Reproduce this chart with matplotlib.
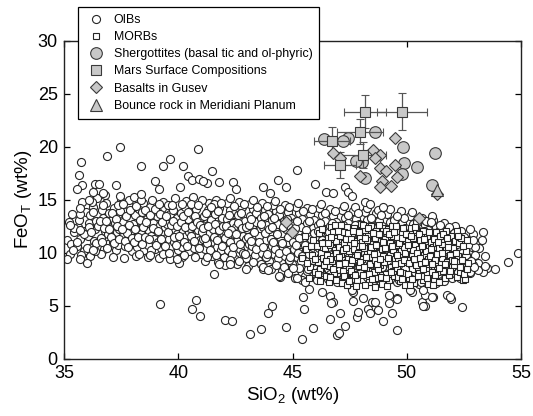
import matplotlib
matplotlib.use("Agg")
import matplotlib.pyplot as plt
from matplotlib.lines import Line2D

plt.rcParams['font.family'] = ['Liberation Sans', 'DejaVu Sans']
plt.rcParams['mathtext.fontset'] = 'custom'
plt.rcParams['mathtext.rm'] = 'Liberation Sans'
plt.rcParams['mathtext.it'] = 'Liberation Sans:italic'

# ---------------- data (SiO2 wt%, FeO_T wt%) ----------------
oib_band = [
 (35.12,11.2),(35.2,12.9),(35.3,10.8),(35.35,13.6),(35.45,11.9),(35.25,9.9),
 (35.55,10.6),(35.6,12.4),(35.65,13.1),(35.7,11.3),(35.8,14.8),(35.85,10.1),(35.9,12.0),(35.95,13.8),(35.75,9.8),
 (36.05,11.6),(36.1,12.8),(36.15,13.5),(36.2,10.5),(36.25,14.3),(36.3,11.1),(36.35,12.2),(36.4,13.0),(36.45,15.1),(36.12,9.7),(36.38,10.9),
 (36.55,12.6),(36.6,11.4),(36.65,14.0),(36.7,13.3),(36.75,10.3),(36.8,12.0),(36.85,14.7),(36.9,11.7),(36.95,13.7),(36.6,9.9),(36.78,15.4),(36.92,10.8),
 (37.02,12.4),(37.08,13.1),(37.12,11.0),(37.18,14.2),(37.22,12.8),(37.28,10.2),(37.32,11.9),(37.38,13.6),(37.42,12.2),(37.48,14.9),(37.15,9.6),(37.35,10.7),(37.45,15.3),
 (37.52,11.5),(37.58,12.9),(37.62,13.9),(37.68,10.6),(37.72,12.3),(37.78,11.2),(37.82,14.4),(37.88,13.2),(37.92,12.0),(37.98,10.1),(37.6,9.5),(37.85,15.0),(37.75,11.8),
 (38.02,12.7),(38.08,11.4),(38.12,13.5),(38.18,10.5),(38.22,12.1),(38.28,14.1),(38.32,11.0),(38.38,12.9),(38.42,13.8),(38.48,10.2),(38.15,9.7),(38.35,11.7),(38.45,14.7),(38.05,15.2),
 (38.52,12.4),(38.58,11.1),(38.62,13.2),(38.68,10.7),(38.72,12.0),(38.78,14.3),(38.82,11.6),(38.88,12.8),(38.92,13.7),(38.98,10.3),(38.65,9.6),(38.85,15.0),(38.55,14.0),(38.95,11.3),
 (39.02,12.2),(39.08,13.4),(39.12,11.0),(39.18,12.6),(39.22,10.4),(39.28,14.2),(39.32,11.8),(39.38,13.0),(39.42,12.4),(39.48,10.0),(39.15,9.5),(39.35,14.8),(39.45,11.4),(39.05,13.9),
 (39.52,12.7),(39.58,11.3),(39.62,13.6),(39.68,10.6),(39.72,12.1),(39.78,14.0),(39.82,11.0),(39.88,12.9),(39.92,13.3),(39.98,10.2),(39.65,9.4),(39.85,15.1),(39.55,14.5),(39.95,11.7),
 (40.02,12.5),(40.08,11.2),(40.12,13.7),(40.18,10.5),(40.22,12.0),(40.28,14.3),(40.32,11.6),(40.38,12.9),(40.42,13.2),(40.48,10.1),(40.15,9.6),(40.35,14.9),(40.45,11.9),(40.05,9.0),
 (40.52,12.3),(40.58,11.0),(40.62,13.5),(40.68,10.4),(40.72,12.7),(40.78,14.1),(40.82,11.5),(40.88,12.1),(40.92,13.0),(40.98,9.9),(40.65,15.2),(40.85,10.8),(40.55,14.6),(40.95,11.2),
 (41.02,12.6),(41.08,11.3),(41.12,13.4),(41.18,10.3),(41.22,12.0),(41.28,14.0),(41.32,11.7),(41.38,12.8),(41.42,13.1),(41.48,9.7),(41.15,9.2),(41.35,14.7),(41.45,10.9),(41.05,15.0),
 (41.52,12.2),(41.58,11.0),(41.62,13.6),(41.68,10.5),(41.72,12.5),(41.78,14.2),(41.82,11.4),(41.88,12.9),(41.92,13.3),(41.98,9.6),(41.65,15.0),(41.85,10.2),(41.55,14.6),(41.95,11.8),(41.75,9.1),
 (42.02,12.1),(42.08,10.9),(42.12,13.2),(42.18,10.2),(42.22,12.6),(42.28,14.0),(42.32,11.3),(42.38,12.8),(42.42,13.6),(42.48,9.4),(42.15,14.7),(42.35,9.9),(42.45,11.7),(42.05,8.8),(42.25,15.1),
 (42.52,12.4),(42.58,11.1),(42.62,13.5),(42.68,10.3),(42.72,12.0),(42.78,14.3),(42.82,11.6),(42.88,12.7),(42.92,13.0),(42.98,9.5),(42.65,14.8),(42.85,10.0),(42.55,8.9),(42.95,11.3),
 (43.02,12.2),(43.08,10.8),(43.12,13.4),(43.18,10.1),(43.22,12.5),(43.28,14.1),(43.32,11.4),(43.38,12.9),(43.42,13.7),(43.48,9.3),(43.15,14.6),(43.35,9.8),(43.45,11.0),(43.05,8.7),(43.25,15.0),
 (43.52,12.0),(43.58,10.7),(43.62,13.3),(43.68,10.0),(43.72,12.4),(43.78,14.0),(43.82,11.2),(43.88,12.6),(43.92,13.6),(43.98,9.2),(43.65,14.7),(43.85,9.6),(43.55,11.6),(43.95,8.6),
 (44.02,11.9),(44.08,10.6),(44.12,13.1),(44.18,9.9),(44.22,12.3),(44.28,13.9),(44.32,11.1),(44.38,12.7),(44.42,13.5),(44.48,9.1),(44.15,14.5),(44.35,9.5),(44.45,11.5),(44.05,8.4),(44.25,14.9),
 (44.52,11.8),(44.58,10.4),(44.62,13.0),(44.68,9.7),(44.72,12.2),(44.78,13.8),(44.82,11.0),(44.88,12.5),(44.92,13.3),(44.98,8.9),(44.65,14.5),(44.85,9.3),(44.55,8.3),(44.95,11.4),
 (45.02,11.6),(45.08,10.3),(45.12,12.9),(45.18,9.6),(45.22,12.0),(45.28,13.7),(45.32,10.8),(45.38,12.4),(45.42,13.2),(45.48,8.8),(45.15,14.3),(45.35,9.2),(45.45,11.3),(45.05,8.0),(45.25,14.7),
 (45.52,11.5),(45.58,10.2),(45.62,12.8),(45.68,9.5),(45.72,11.9),(45.78,13.6),(45.82,10.7),(45.88,12.3),(45.92,13.1),(45.98,8.7),(45.65,14.2),(45.85,9.1),(45.55,7.8),(45.95,11.2),
 (46.02,11.4),(46.08,10.0),(46.12,12.6),(46.18,9.3),(46.22,11.8),(46.28,13.5),(46.32,10.6),(46.38,12.2),(46.42,13.0),(46.48,8.5),(46.15,14.2),(46.35,9.0),(46.45,11.1),(46.05,7.6),(46.25,14.6),
 (46.52,11.3),(46.58,9.9),(46.62,12.5),(46.68,9.2),(46.72,11.7),(46.78,13.4),(46.82,10.5),(46.88,12.1),(46.92,12.9),(46.98,8.4),(46.65,14.1),(46.85,8.9),(46.55,7.5),(46.95,11.0),
 (47.02,11.2),(47.08,9.8),(47.12,12.4),(47.18,9.1),(47.22,11.6),(47.28,13.3),(47.32,10.4),(47.38,12.0),(47.42,12.8),(47.48,8.3),(47.15,14.0),(47.35,8.8),(47.45,10.9),(47.05,7.4),(47.25,14.4),
 (47.52,11.1),(47.58,9.7),(47.62,12.3),(47.68,9.0),(47.72,11.5),(47.78,13.2),(47.82,10.3),(47.88,11.9),(47.92,12.7),(47.98,8.2),(47.65,13.9),(47.85,8.7),(47.55,7.6),(47.95,10.8),(47.75,14.3),
 (48.02,11.0),(48.08,9.6),(48.12,12.2),(48.18,8.9),(48.22,11.4),(48.28,13.1),(48.32,10.2),(48.38,11.8),(48.42,12.6),(48.48,8.1),(48.15,13.8),(48.35,8.6),(48.45,10.7),(48.05,7.5),(48.25,14.2),
 (48.52,10.9),(48.58,9.5),(48.62,12.1),(48.68,8.8),(48.72,11.3),(48.78,13.0),(48.82,10.1),(48.88,11.7),(48.92,12.5),(48.98,8.0),(48.65,13.7),(48.85,8.5),(48.55,7.4),(48.95,10.6),(48.75,14.0),
 (49.02,10.8),(49.08,9.4),(49.12,12.0),(49.18,8.7),(49.22,11.2),(49.28,12.9),(49.32,10.0),(49.38,11.6),(49.42,12.4),(49.48,7.9),(49.15,13.6),(49.35,8.4),(49.45,10.5),(49.05,7.3),(49.25,14.1),
 (49.52,10.7),(49.58,9.3),(49.62,11.9),(49.68,8.6),(49.72,11.1),(49.78,12.8),(49.82,9.9),(49.88,11.5),(49.92,12.3),(49.98,7.8),(49.65,13.5),(49.85,8.3),(49.55,7.2),(49.95,10.4),(49.75,13.9),
 (50.02,10.6),(50.08,9.2),(50.12,11.8),(50.18,8.5),(50.22,11.0),(50.28,12.7),(50.32,9.8),(50.38,11.4),(50.42,12.2),(50.48,7.7),(50.15,13.4),(50.35,8.2),(50.45,10.3),(50.05,7.1),(50.25,13.8),
 (50.52,10.5),(50.58,9.1),(50.62,11.7),(50.68,8.4),(50.72,10.9),(50.78,12.6),(50.82,9.7),(50.88,11.3),(50.92,12.1),(50.98,7.6),(50.65,13.3),(50.85,8.1),(50.55,7.0),(50.95,10.2),
 (51.02,10.4),(51.08,9.0),(51.12,11.6),(51.18,8.3),(51.22,10.8),(51.28,12.4),(51.32,9.6),(51.38,11.2),(51.42,12.0),(51.48,7.5),(51.15,13.1),(51.35,8.0),(51.45,10.1),
 (51.52,10.3),(51.58,8.9),(51.62,11.5),(51.68,8.2),(51.72,10.7),(51.78,12.2),(51.82,9.5),(51.88,11.1),(51.92,11.8),(51.98,7.6),(51.65,12.8),(51.85,8.0),(51.95,10.0),
 (52.02,10.2),(52.1,8.8),(52.15,11.3),(52.22,8.2),(52.3,10.6),(52.38,12.0),(52.45,9.4),(52.25,11.0),(52.48,7.9),(52.12,12.5),
 (52.55,10.1),(52.62,8.7),(52.7,11.2),(52.78,8.1),(52.85,10.5),(52.92,11.7),(52.6,9.3),(52.98,9.8),(52.75,12.2),
 (53.05,10.8),(53.18,10.4),(52.99,10.55),(53.35,11.96),(53.12,9.0),(53.43,9.67),(53.5,8.5),(53.35,8.2),(53.13,8.35),
 (53.87,8.4),(54.45,9.13),(54.89,9.92),(53.3,11.2),(52.77,8.2),(53.43,8.7),(52.92,8.8),
]

oib_band_fill = [
 (35.42,12.3),(35.58,11.0),(35.68,13.6),(35.88,11.7),(35.98,10.4),
 (36.08,12.4),(36.18,11.9),(36.28,13.8),(36.33,10.1),(36.48,12.5),(36.22,14.8),
 (36.58,13.0),(36.68,11.0),(36.73,12.3),(36.83,13.0),(36.88,10.4),(36.98,12.2),(36.7,14.5),
 (37.05,11.5),(37.1,13.7),(37.2,10.9),(37.25,13.2),(37.3,12.5),(37.4,11.3),(37.46,13.9),(37.36,14.5),
 (37.55,12.2),(37.65,11.1),(37.7,13.4),(37.8,10.5),(37.84,12.6),(37.9,14.0),(37.96,11.4),(37.58,14.6),
 (38.04,11.0),(38.1,12.2),(38.16,14.4),(38.24,11.5),(38.3,13.1),(38.4,10.8),(38.44,12.4),(38.26,9.9),(38.36,15.0),
 (38.54,11.5),(38.6,12.9),(38.7,11.3),(38.75,13.5),(38.8,10.2),(38.9,12.3),(38.96,14.1),(38.74,9.8),
 (39.04,10.7),(39.1,12.0),(39.2,13.6),(39.25,11.3),(39.3,12.9),(39.4,10.6),(39.44,13.4),(39.34,9.9),(39.16,14.6),
 (39.54,11.9),(39.6,10.0),(39.7,12.6),(39.75,13.0),(39.8,11.5),(39.9,10.7),(39.96,12.5),(39.74,14.5),
 (40.04,11.6),(40.1,12.9),(40.2,13.4),(40.25,11.0),(40.3,12.4),(40.4,10.6),(40.44,13.8),(40.24,9.8),(40.16,14.6),
 (40.54,11.6),(40.6,12.5),(40.7,11.1),(40.75,13.4),(40.8,12.9),(40.9,10.4),(40.96,12.6),(40.74,9.6),(40.86,14.5),
 (41.04,11.9),(41.1,12.3),(41.2,13.7),(41.25,10.9),(41.3,12.5),(41.4,10.2),(41.44,14.3),(41.26,9.6),(41.16,11.4),
 (41.54,11.5),(41.6,12.7),(41.7,11.2),(41.74,13.9),(41.8,12.1),(41.9,10.6),(41.96,12.5),(41.64,9.8),(41.86,14.7),
 (42.04,11.4),(42.1,12.5),(42.2,13.5),(42.24,11.0),(42.3,12.1),(42.4,10.5),(42.44,14.4),(42.26,9.3),(42.16,11.8),
 (42.54,11.7),(42.6,12.8),(42.7,10.8),(42.74,13.7),(42.8,12.3),(42.9,9.9),(42.96,12.4),(42.64,9.2),(42.86,14.6),
 (43.04,11.5),(43.1,12.6),(43.2,13.2),(43.24,10.6),(43.3,11.9),(43.4,10.3),(43.44,14.3),(43.26,9.1),(43.16,11.1),
 (43.54,11.0),(43.6,12.7),(43.7,10.5),(43.74,13.4),(43.8,11.8),(43.9,9.9),(43.96,12.2),(43.64,8.9),(43.86,14.4),
 (44.04,11.3),(44.1,12.4),(44.2,13.3),(44.24,10.3),(44.3,11.7),(44.4,10.0),(44.44,14.1),(44.26,8.8),(44.16,11.0),
 (44.54,10.9),(44.6,12.4),(44.7,10.1),(44.74,13.2),(44.8,11.5),(44.9,9.6),(44.96,12.0),(44.64,8.6),(44.86,14.3),
 (45.04,11.0),(45.1,12.3),(45.2,13.0),(45.24,10.0),(45.3,11.4),(45.4,9.7),(45.44,13.9),(45.26,8.5),(45.16,10.7),
 (45.54,10.7),(45.6,12.1),(45.7,9.9),(45.74,13.0),(45.8,11.3),(45.9,9.3),(45.96,11.8),(45.64,8.3),(45.86,14.1),
 (46.04,10.8),(46.1,12.0),(46.2,12.8),(46.24,9.7),(46.3,11.2),(46.4,9.4),(46.44,13.7),(46.26,8.2),(46.16,10.4),
 (46.54,10.5),(46.6,11.9),(46.7,9.6),(46.74,12.8),(46.8,11.1),(46.9,9.0),(46.96,11.6),(46.64,8.0),(46.86,13.9),
 (47.04,10.6),(47.1,11.8),(47.2,12.6),(47.24,9.4),(47.3,11.0),(47.4,9.1),(47.44,13.5),(47.26,7.9),(47.16,10.2),
 (47.54,10.3),(47.6,11.7),(47.7,9.3),(47.74,12.6),(47.8,10.9),(47.9,8.8),(47.96,11.4),(47.64,7.8),(47.86,13.7),
 (48.04,10.4),(48.1,11.6),(48.2,12.4),(48.24,9.2),(48.3,10.8),(48.4,8.9),(48.44,13.3),(48.26,7.7),(48.16,10.0),
 (48.54,10.1),(48.6,11.5),(48.7,9.1),(48.74,12.4),(48.8,10.7),(48.9,8.6),(48.96,11.2),(48.64,7.6),(48.86,13.5),
 (49.04,10.2),(49.1,11.4),(49.2,12.2),(49.24,9.0),(49.3,10.6),(49.4,8.7),(49.44,13.1),(49.26,7.5),(49.16,9.8),
 (49.54,9.9),(49.6,11.3),(49.7,8.9),(49.74,12.2),(49.8,10.5),(49.9,8.4),(49.96,11.0),(49.64,7.4),(49.86,13.3),
 (50.04,10.0),(50.1,11.2),(50.2,12.0),(50.24,8.8),(50.3,10.4),(50.4,8.5),(50.44,12.9),(50.26,7.3),(50.16,9.6),
 (50.54,9.7),(50.6,11.1),(50.7,8.7),(50.74,12.0),(50.8,10.3),(50.9,8.2),(50.96,10.8),(50.64,7.2),(50.86,13.0),
 (51.04,9.8),(51.1,11.0),(51.2,11.8),(51.24,8.6),(51.3,10.2),(51.4,8.3),(51.44,12.6),(51.26,7.1),(51.16,9.4),
 (51.54,9.5),(51.6,10.9),(51.7,8.5),(51.74,11.7),(51.8,10.1),(51.9,8.0),(51.96,10.6),(51.64,7.3),(51.86,12.4),
 (52.06,9.6),(52.18,10.8),(52.28,9.0),(52.35,11.5),(52.42,10.0),(52.05,11.8),(52.33,7.6),
 (52.58,9.8),(52.68,10.7),(52.8,9.2),(52.88,11.2),(52.52,11.5),(52.95,8.6),
]

oib_high = [
 (37.45,20.0),(36.87,19.1),(35.73,18.5),(40.88,19.8),(39.64,18.85),(39.34,18.15),(38.37,18.15),(40.22,18.15),
 (41.46,17.7),(35.67,17.3),(35.77,16.4),(35.55,15.96),(36.35,16.5),(36.54,16.45),(36.28,15.7),(36.1,14.95),
 (37.27,16.4),(36.72,15.6),(38.98,16.7),(39.17,15.96),(40.41,17.2),(40.59,16.84),(40.92,16.9),(41.24,16.6),
 (40.07,16.2),(38.35,15.5),(35.26,12.6),(35.11,9.4),(35.38,10.2),(35.7,9.4),(36.02,9.0),(35.7,14.2),
 (35.7,12.1),(36.28,10.2),(39.93,9.4),
 (45.18,17.8),(41.1,16.75),(41.8,16.65),(42.41,16.65),(42.53,16.0),(43.72,16.2),(44.38,16.8),(44.72,16.15),
 (44.0,15.6),(45.99,16.5),(46.47,15.73),(46.79,15.6),(47.3,16.2),(47.44,15.7),(47.6,15.3),
 (48.17,14.8),(48.39,14.6),(48.98,14.3),(49.56,13.4),(51.09,13.4),(51.05,12.9),
]

oib_low = [
 (39.2,5.1),(40.76,5.5),(40.61,4.67),(40.95,4.03),(42.04,3.63),(42.36,3.5),(43.12,2.3),(41.56,8.0),
 (42.96,8.45),(43.61,2.8),(44.12,5.0),(43.94,4.26),(44.7,3.0),(45.43,1.8),(45.91,2.85),(45.5,4.64),
 (45.47,5.83),(45.74,6.56),(46.28,6.3),(46.64,5.9),(46.79,5.36),(46.67,5.2),(47.08,4.3),(46.64,3.7),
 (46.94,2.2),(47.05,2.38),(47.3,3.1),(47.64,6.25),(47.64,5.45),(47.81,3.94),(47.85,4.4),(48.07,5.68),
 (48.32,4.64),(48.39,4.26),(48.47,5.36),(48.61,5.36),(48.73,4.58),(48.95,3.54),(49.22,5.26),(49.37,4.32),
 (49.59,5.68),(49.59,2.7),(50.22,6.3),(50.66,5.36),(50.8,4.95),(51.14,5.77),(50.8,6.0),(51.75,6.0),
 (51.93,5.58),(52.41,4.89),(47.64,7.4),(47.52,6.93),(41.8,8.9),(42.26,8.9),
 (43.72,8.4),(44.45,7.7),(45.11,7.55),(45.4,7.4),(46.79,7.7),(47.08,7.25),(47.59,6.45),
 (50.14,6.45),(49.56,5.66),(49.2,5.98),(50.73,6.45),(51.1,5.83),(50.73,4.95),(51.9,5.83),
 (43.72,8.66),(43.94,8.35),(44.42,7.78),(44.82,8.04),(45.04,8.5),(45.18,7.57),(45.55,7.25),(45.69,8.42),
 (46.06,7.4),(46.2,8.35),(46.94,7.25),
]

morb = [
 (45.4,9.5),(45.6,10.3),(45.75,8.6),(45.9,11.2),(45.99,8.2),(45.85,9.8),(45.55,11.6),(45.7,7.6),
 (46.05,10.6),(46.1,9.1),(46.15,11.8),(46.2,8.4),(46.25,10.0),(46.3,12.2),(46.35,9.5),(46.4,11.0),(46.45,7.8),(46.18,7.3),(46.42,10.4),
 (46.52,9.8),(46.56,11.4),(46.6,8.7),(46.64,10.7),(46.68,12.4),(46.72,9.2),(46.76,11.9),(46.8,8.1),(46.84,10.2),(46.88,7.4),(46.92,11.1),(46.96,9.6),(46.58,7.2),(46.86,12.6),
 (47.02,10.5),(47.05,8.9),(47.09,11.6),(47.13,9.9),(47.17,12.2),(47.21,8.3),(47.25,10.9),(47.29,7.6),(47.33,11.3),(47.37,12.4),(47.41,9.4),(47.45,10.1),(47.48,8.6),(47.15,7.1),(47.39,6.9),(47.27,11.9),
 (47.52,10.7),(47.55,9.0),(47.59,11.8),(47.63,8.0),(47.67,10.3),(47.71,12.3),(47.75,9.6),(47.79,11.1),(47.83,7.4),(47.87,10.0),(47.91,8.7),(47.95,11.5),(47.98,12.7),(47.61,9.3),(47.77,6.8),(47.93,10.6),
 (48.02,9.4),(48.05,11.0),(48.09,7.9),(48.13,10.4),(48.17,12.1),(48.21,8.5),(48.25,9.9),(48.29,11.6),(48.33,7.2),(48.37,10.8),(48.41,8.9),(48.45,12.5),(48.48,9.6),(48.15,6.9),(48.27,11.2),(48.39,10.1),(48.07,12.6),
 (48.52,10.5),(48.55,8.2),(48.59,11.4),(48.63,9.3),(48.67,12.0),(48.71,7.6),(48.75,10.0),(48.79,11.7),(48.83,8.8),(48.87,10.9),(48.91,7.0),(48.95,9.7),(48.98,12.3),(48.61,6.7),(48.73,8.4),(48.85,11.1),(48.93,10.3),
 (49.02,9.1),(49.05,11.3),(49.09,8.0),(49.13,10.6),(49.17,12.2),(49.21,7.4),(49.25,9.8),(49.29,11.0),(49.33,8.6),(49.37,12.5),(49.41,10.2),(49.45,7.8),(49.48,9.4),(49.15,6.8),(49.27,10.9),(49.39,8.3),(49.07,12.0),
 (49.52,10.7),(49.55,8.5),(49.59,11.5),(49.63,9.2),(49.67,12.0),(49.71,7.3),(49.75,10.1),(49.79,11.8),(49.83,8.1),(49.87,10.5),(49.91,6.9),(49.95,9.5),(49.98,11.2),(49.61,7.7),(49.73,9.0),(49.85,12.3),(49.93,10.0),
 (50.02,9.3),(50.05,11.1),(50.09,7.6),(50.13,10.4),(50.17,12.3),(50.21,8.4),(50.25,9.9),(50.29,11.4),(50.33,7.1),(50.37,10.7),(50.41,8.8),(50.45,11.9),(50.48,9.6),(50.15,6.9),(50.27,10.2),(50.39,12.1),(50.07,8.0),
 (50.52,10.3),(50.55,8.1),(50.59,11.2),(50.63,9.0),(50.67,11.8),(50.71,7.4),(50.75,9.8),(50.79,10.8),(50.83,8.5),(50.87,11.6),(50.91,7.0),(50.95,9.4),(50.98,10.5),(50.61,7.8),(50.73,12.0),(50.85,10.1),(50.93,8.9),
 (51.02,9.7),(51.05,11.0),(51.09,8.2),(51.13,10.5),(51.17,11.7),(51.21,7.5),(51.25,9.3),(51.29,10.9),(51.33,8.7),(51.37,11.5),(51.41,7.2),(51.45,10.0),(51.48,9.0),(51.15,6.9),(51.27,11.9),(51.39,10.4),
 (51.52,9.5),(51.56,10.8),(51.6,8.3),(51.64,11.3),(51.68,7.6),(51.72,10.2),(51.76,9.1),(51.8,11.0),(51.84,7.9),(51.88,9.8),(51.92,11.6),(51.96,8.6),(51.7,12.0),
 (52.03,10.4),(52.08,8.8),(52.13,11.1),(52.18,7.7),(52.23,9.7),(52.28,10.9),(52.33,8.2),(52.38,11.4),(52.43,9.3),(52.48,7.4),(52.2,12.0),
 (52.55,7.5),(52.5,8.0),(52.63,11.2),(52.6,10.1),(52.7,9.0),(52.65,8.4),
]

morb_fill = [
 (46.54,10.9),(46.62,9.4),(46.7,11.5),(46.78,8.4),(46.9,10.0),(46.98,12.0),(46.66,7.7),
 (47.04,9.6),(47.11,12.6),(47.19,10.2),(47.23,7.8),(47.31,9.0),(47.43,11.8),(47.47,7.3),(47.35,10.4),
 (47.54,11.3),(47.57,8.3),(47.65,12.0),(47.73,7.9),(47.81,9.8),(47.89,11.9),(47.97,9.1),(47.69,10.9),
 (48.04,10.6),(48.11,8.6),(48.19,11.4),(48.23,9.6),(48.31,12.3),(48.35,8.0),(48.43,10.5),(48.47,7.5),
 (48.54,11.8),(48.57,9.9),(48.65,10.7),(48.69,8.9),(48.77,12.6),(48.81,9.4),(48.89,7.7),(48.97,11.0),
 (49.04,10.4),(49.11,7.6),(49.19,9.5),(49.23,11.7),(49.31,8.2),(49.35,10.6),(49.43,11.9),(49.47,8.9),
 (49.54,12.5),(49.57,9.8),(49.65,10.9),(49.69,8.2),(49.77,11.4),(49.81,7.5),(49.89,9.3),(49.97,11.7),
 (50.04,10.7),(50.11,9.0),(50.19,11.6),(50.23,7.5),(50.31,9.4),(50.35,12.4),(50.43,10.0),(50.47,7.8),
 (50.54,11.7),(50.57,9.5),(50.65,10.6),(50.69,8.4),(50.77,11.3),(50.81,9.1),(50.89,7.6),(50.97,11.9),
 (51.04,10.3),(51.11,8.9),(51.19,11.3),(51.23,7.9),(51.31,9.9),(51.35,11.0),(51.43,8.5),(51.47,11.6),
 (51.54,10.0),(51.58,11.7),(51.66,8.9),(51.74,11.4),(51.82,10.5),(51.9,8.3),(51.98,9.3),
 (52.05,9.2),(52.15,10.0),(52.25,11.6),(52.35,8.6),(52.45,10.6),
 (45.65,9.0),(45.8,10.6),(46.0,9.4),(46.12,8.0),(46.3,10.9),(46.38,8.8),(46.48,9.2),
]

sherg_sio2 = [48.61, 47.44, 46.38, 47.20, 49.85, 51.24, 48.03, 49.88, 50.46, 48.17, 49.78, 51.09, 47.78]
sherg_feo  = [21.4, 20.8, 20.7, 20.5, 20.0, 19.4, 18.57, 18.4, 18.1, 17.0, 17.4, 16.4, 18.67]

mars_sio2 = [48.17, 49.78, 47.96, 46.72, 48.07, 47.08]
mars_feo  = [23.3, 23.3, 21.4, 20.5, 19.2, 18.26]
mars_sio2_err = [0.9, 1.1, 1.0, 0.8, 1.0, 0.7]
mars_feo_err  = [1.6, 1.75, 1.2, 1.3, 1.25, 1.2]

gusev_sio2 = [49.49, 46.79, 47.08, 48.51, 48.83, 48.61, 49.49, 48.83, 49.09, 47.96, 49.56, 48.91, 48.83, 49.30, 51.31, 50.55, 44.72, 44.97]
gusev_feo  = [20.8, 19.4, 18.9, 19.7, 19.2, 18.9, 18.26, 18.0, 17.7, 17.2, 17.1, 16.7, 16.15, 16.3, 15.5, 13.3, 12.9, 11.95]

bounce_sio2 = [51.31]
bounce_feo = [15.9]

x_ticks = [35, 40, 45, 50, 55]
y_ticks = [0, 5, 10, 15, 20, 25, 30]

# ---------------- figure ----------------
fig = plt.figure(figsize=(5.33, 4.16), dpi=100)
ax = fig.add_axes([0.1203, 0.1382, 0.8572, 0.7644])

edge = '#262626'
gray = '#c8c8c8'
gedge = '#3a3a3a'

oib = oib_band + oib_band_fill + oib_high + oib_low
morb_all = morb + morb_fill
ax.plot([p[0] for p in oib], [p[1] for p in oib], 'o', ms=5.8, mfc='white', mec=edge, mew=0.8, ls='none')
ax.plot([p[0] for p in morb_all], [p[1] for p in morb_all], 's', ms=5.0, mfc='white', mec=edge, mew=0.8, ls='none')

ax.plot(sherg_sio2, sherg_feo, 'o', ms=8.4, mfc=gray, mec=gedge, mew=0.8, ls='none')
ax.errorbar(mars_sio2, mars_feo, xerr=mars_sio2_err, yerr=mars_feo_err, fmt='s', ms=6.7,
            mfc=gray, mec=gedge, mew=0.8, ecolor='#555555', elinewidth=0.9, capsize=3, capthick=0.9)
ax.plot(gusev_sio2, gusev_feo, 'D', ms=6.2, mfc=gray, mec=gedge, mew=0.8, ls='none')
ax.plot(bounce_sio2, bounce_feo, '^', ms=8.0, mfc=gray, mec=gedge, mew=0.8, ls='none')

ax.set_xlim(35, 55)
ax.set_ylim(0, 30)
ax.set_xticks(x_ticks)
ax.set_yticks(y_ticks)
ax.tick_params(direction='in', top=True, right=True, length=4, width=0.9, labelsize=13)
ax.tick_params(axis='x', pad=5)
ax.tick_params(axis='y', pad=4.5)
for s in ax.spines.values():
    s.set_linewidth(1.0)
    s.set_color('#222222')
ax.set_xlabel('SiO$_2$ (wt%)', fontsize=13.5, labelpad=2)
ax.set_ylabel('FeO$_\\mathrm{T}$ (wt%)', fontsize=13.5, labelpad=3)

handles = [
    Line2D([], [], marker='o', ls='none', ms=5.8, mfc='white', mec=edge, mew=0.8),
    Line2D([], [], marker='s', ls='none', ms=5.0, mfc='white', mec=edge, mew=0.8),
    Line2D([], [], marker='o', ls='none', ms=8.4, mfc=gray, mec=gedge, mew=0.8),
    Line2D([], [], marker='s', ls='none', ms=6.7, mfc=gray, mec=gedge, mew=0.8),
    Line2D([], [], marker='D', ls='none', ms=6.2, mfc=gray, mec=gedge, mew=0.8),
    Line2D([], [], marker='^', ls='none', ms=8.0, mfc=gray, mec=gedge, mew=0.8),
]
labels = ['OIBs', 'MORBs', 'Shergottites (basal tic and ol-phyric)', 'Mars Surface Compositions',
          'Basalts in Gusev', 'Bounce rock in Meridiani Planum']
leg = fig.legend(handles, labels, loc='upper left', bbox_to_anchor=(0.147, 0.983),
                 fontsize=8.9, frameon=True, fancybox=False, framealpha=1, edgecolor='black',
                 borderpad=0.55, labelspacing=0.42, handletextpad=0.5, handlelength=1.8, borderaxespad=0)
leg.get_frame().set_linewidth(0.9)

fig.savefig('out.png', dpi=100)
